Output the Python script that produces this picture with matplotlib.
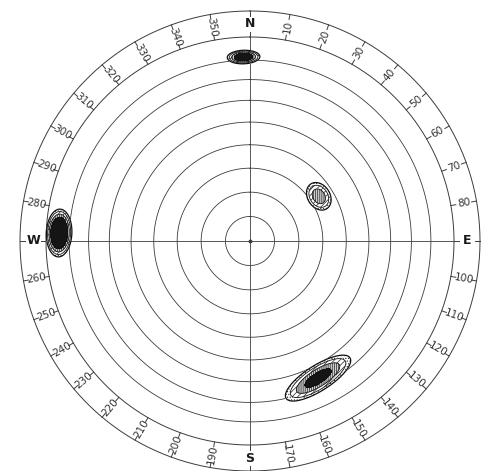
import numpy as np
import matplotlib
matplotlib.use("Agg")
import matplotlib.pyplot as plt

# Bezel azimuth labels (compass degrees) and cardinal letters
label_azimuths = [a for a in range(10, 360, 10) if a % 90 != 0]
cardinal_azimuths = [0, 90, 180, 270]
cardinal_letters = ["N", "E", "S", "W"]

# Dip circles of the equal-area net (degrees)
ring_dips = [10, 20, 30, 40, 50, 60, 70, 80]

# Concentrations: mean azimuth, mean dip, tangential / radial half-size
# (in net radii), peak density and extra tilt of the long axis (deg)
blob_azimuth = [358.0, 57.0, 272.4, 153.6]
blob_dip = [81.7, 33.9, 85.5, 65.9]
blob_half_t = [0.082, 0.074, 0.120, 0.190]
blob_half_r = [0.034, 0.056, 0.064, 0.064]
blob_peak = [20.0, 7.0, 40.0, 12.0]
blob_tilt = [0.0, 0.0, 0.0, 6.0]

# Density contour levels
density_levels = [1, 2, 4, 8, 1000]

INK = "#3c3c3c"
R_BEZEL_IN = 204 / 199
R_BEZEL_OUT = 230 / 199
R_LABEL = 217 / 199


def net_radius(dip):
    return np.sqrt(2.0) * np.sin(np.radians(dip) / 2.0)


def to_xy(az, r):
    a = np.radians(az)
    return r * np.sin(a), r * np.cos(a)


fig = plt.figure(figsize=(4.86, 4.71), dpi=100)
ax = fig.add_axes([0, 0, 1, 1])
ax.set_xlim(-250 / 199, 236 / 199)
ax.set_ylim(-230 / 199, 241 / 199)
ax.axis("off")

plt.rcParams["hatch.linewidth"] = 0.5
plt.rcParams["hatch.color"] = "#222222"

th = np.linspace(0, 360, 721)

# dip circles
for d in ring_dips:
    x, y = to_xy(th, net_radius(d))
    ax.plot(x, y, color=INK, lw=0.6)

# bezel circles
for r in (R_BEZEL_IN, R_BEZEL_OUT):
    x, y = to_xy(th, r)
    ax.plot(x, y, color=INK, lw=0.7)

# cross hairs
ax.plot([-R_BEZEL_IN, R_BEZEL_IN], [0, 0], color=INK, lw=0.6)
ax.plot([0, 0], [-R_BEZEL_IN, R_BEZEL_IN], color=INK, lw=0.6)
ax.plot([0], [0], marker="o", ms=1.8, color=INK)

# bezel ticks every 10 degrees
tick_len = 5 / 199
for az in range(0, 360, 10):
    x0, y0 = to_xy(az, R_BEZEL_IN)
    x1, y1 = to_xy(az, R_BEZEL_IN + tick_len)
    ax.plot([x0, x1], [y0, y1], color=INK, lw=0.7)
    x0, y0 = to_xy(az, R_BEZEL_OUT)
    x1, y1 = to_xy(az, R_BEZEL_OUT - tick_len)
    ax.plot([x0, x1], [y0, y1], color=INK, lw=0.7)

# azimuth labels, radially oriented
for az in label_azimuths:
    x, y = to_xy(az, R_LABEL)
    rot = 90 - az if az < 180 else 270 - az
    ax.text(x, y, str(az), rotation=rot, rotation_mode="anchor",
            ha="center", va="center", fontsize=7.5, color="#333333",
            family="DejaVu Sans")

for az, lab in zip(cardinal_azimuths, cardinal_letters):
    x, y = to_xy(az, R_LABEL)
    ax.text(x, y, lab, ha="center", va="center", fontsize=9,
            fontweight="bold", color="#1a1a1a", family="DejaVu Sans")

# density field of the concentrations
gx = np.linspace(-1.05, 1.05, 900)
gy = np.linspace(-1.05, 1.05, 900)
X, Y = np.meshgrid(gx, gy)
Z = np.zeros_like(X)
for az, dip, ht, hr, pk, tilt in zip(blob_azimuth, blob_dip, blob_half_t,
                                      blob_half_r, blob_peak, blob_tilt):
    cx, cy = to_xy(az, net_radius(dip))
    k = np.sqrt(2.0 * np.log(pk / density_levels[0]))
    st, sr = ht / k, hr / k
    a = np.radians(az - tilt)
    dx, dy = X - cx, Y - cy
    t = dx * np.cos(a) - dy * np.sin(a)
    r = dx * np.sin(a) + dy * np.cos(a)
    Z += pk * np.exp(-0.5 * ((t / st) ** 2 + (r / sr) ** 2))

ax.contourf(X, Y, Z, levels=density_levels,
            colors=["white", "white", "#cfcfcf", "#151515"],
            hatches=["......", "//////", "||||||||", None], zorder=3)
ax.contour(X, Y, Z, levels=density_levels[:-1], colors="#111111",
           linewidths=[0.9, 0.6, 0.6, 0.6], zorder=4)

fig.savefig("out.png", dpi=100, facecolor="white")
